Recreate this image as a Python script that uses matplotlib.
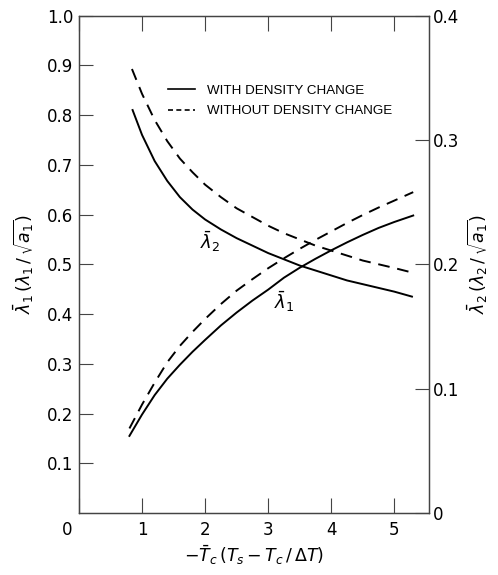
import matplotlib
matplotlib.use("Agg")
import matplotlib.pyplot as plt
from matplotlib.transforms import ScaledTranslation
from matplotlib.lines import Line2D

# ---- data ----
x_l1_with = [0.80, 1.00, 1.20, 1.40, 1.60, 1.80, 2.00, 2.25, 2.50, 2.75, 3.00, 3.25, 3.50, 3.75, 4.00, 4.25, 4.50, 4.75, 5.00, 5.30]
y_l1_with = [0.155, 0.198, 0.237, 0.270, 0.298, 0.324, 0.348, 0.377, 0.403, 0.427, 0.449, 0.473, 0.493, 0.511, 0.528, 0.544, 0.559, 0.573, 0.585, 0.598]

x_l1_without = [0.80, 1.00, 1.20, 1.40, 1.60, 1.80, 2.00, 2.25, 2.50, 2.75, 3.00, 3.25, 3.50, 3.75, 4.00, 4.25, 4.50, 4.75, 5.00, 5.30]
y_l1_without = [0.170, 0.218, 0.262, 0.303, 0.336, 0.364, 0.390, 0.420, 0.447, 0.470, 0.492, 0.512, 0.531, 0.549, 0.566, 0.583, 0.599, 0.614, 0.628, 0.645]

x_l2_with = [0.85, 1.00, 1.20, 1.40, 1.60, 1.80, 2.00, 2.25, 2.50, 2.75, 3.00, 3.25, 3.50, 3.75, 4.00, 4.25, 4.50, 4.75, 5.00, 5.28]
y_l2_with = [0.324, 0.304, 0.283, 0.267, 0.254, 0.244, 0.236, 0.228, 0.221, 0.215, 0.209, 0.204, 0.199, 0.195, 0.191, 0.187, 0.184, 0.181, 0.178, 0.174]

x_l2_without = [0.84, 1.00, 1.20, 1.40, 1.60, 1.80, 2.00, 2.25, 2.50, 2.75, 3.00, 3.25, 3.50, 3.75, 4.00, 4.25, 4.50, 4.75, 5.00, 5.31]
y_l2_without = [0.357, 0.337, 0.316, 0.299, 0.285, 0.274, 0.264, 0.254, 0.245, 0.238, 0.231, 0.225, 0.220, 0.215, 0.211, 0.207, 0.203, 0.200, 0.197, 0.193]

x_ticks = [0, 1, 2, 3, 4, 5]
x_ticklabels = ["0", "1", "2", "3", "4", "5"]
yl_ticks = [0.1, 0.2, 0.3, 0.4, 0.5, 0.6, 0.7, 0.8, 0.9, 1.0]
yl_ticklabels = ["0.1", "0.2", "0.3", "0.4", "0.5", "0.6", "0.7", "0.8", "0.9", "1.0"]
yr_ticks = [0, 0.1, 0.2, 0.3, 0.4]
yr_ticklabels = ["0", "0.1", "0.2", "0.3", "0.4"]

legend_labels = ["WITH DENSITY CHANGE", "WITHOUT DENSITY CHANGE"]

# ---- figure ----
plt.rcParams['font.family'] = ['DejaVu Sans']
fig = plt.figure(figsize=(4.98, 5.75), dpi=100)
ax = fig.add_axes([0.1586, 0.1078, 0.7028, 0.8652])
ax2 = ax.twinx()

lw = 1.4
dash = (0, (6, 4))
spine_c = '#444444'

ax.plot(x_l1_with, y_l1_with, color='black', lw=lw, solid_joinstyle='round')
ax.plot(x_l1_without, y_l1_without, color='black', lw=lw, linestyle=dash)
ax2.plot(x_l2_with, y_l2_with, color='black', lw=lw, solid_joinstyle='round')
ax2.plot(x_l2_without, y_l2_without, color='black', lw=lw, linestyle=dash)

ax.set_xlim(0, 5.55)
ax.set_ylim(0, 1.0)
ax2.set_ylim(0, 0.4)

ax.set_xticks(x_ticks)
ax.set_xticklabels(x_ticklabels)
ax.set_yticks(yl_ticks)
ax.set_yticklabels(yl_ticklabels)
ax2.set_yticks(yr_ticks)
ax2.set_yticklabels(yr_ticklabels)

ax.tick_params(axis='x', direction='in', length=11, width=0.8, color=spine_c,
               labelsize=12, pad=6, top=True)
ax.tick_params(axis='y', direction='in', length=10, width=0.8, color=spine_c,
               labelsize=12, pad=4)
ax2.tick_params(axis='y', direction='in', length=10, width=0.8, color=spine_c,
                labelsize=12, pad=3)

# shift the "0" x label left as in reference
for lab in ax.get_xticklabels():
    if lab.get_text() == "0":
        lab.set_transform(lab.get_transform() + ScaledTranslation(-12/100, 0, fig.dpi_scale_trans))

for a in (ax, ax2):
    for s in a.spines.values():
        s.set_linewidth(0.9)
        s.set_color(spine_c)

ax.set_ylabel(r'$\bar{\lambda}_1\,(\lambda_1\,/\,\sqrt{a_1})$', fontsize=12.5, labelpad=8)
ax2.set_ylabel(r'$\bar{\lambda}_2\,(\lambda_2\,/\,\sqrt{a_1})$', fontsize=12.5, labelpad=4)
ax.set_xlabel(r'$-\bar{T}_c\,(T_s - T_c\,/\,\Delta T)$', fontsize=12.5, labelpad=3)

# legend
h1 = Line2D([], [], color='black', lw=1.2)
h2 = Line2D([], [], color='black', lw=1.2, linestyle=(0, (3, 2)))
leg = ax.legend([h1, h2], legend_labels, loc='upper left', bbox_to_anchor=(0.22, 0.885),
                frameon=False, prop={'family': ['Liberation Sans', 'DejaVu Sans'], 'size': 9.6},
                handlelength=2.0, handletextpad=0.9, labelspacing=0.6)

# curve labels
ax.text(2.08, 0.545, r'$\bar{\lambda}_2$', fontsize=13, ha='center', va='center')
ax.text(3.25, 0.425, r'$\bar{\lambda}_1$', fontsize=13, ha='center', va='center')

fig.savefig('out.png', dpi=100)
